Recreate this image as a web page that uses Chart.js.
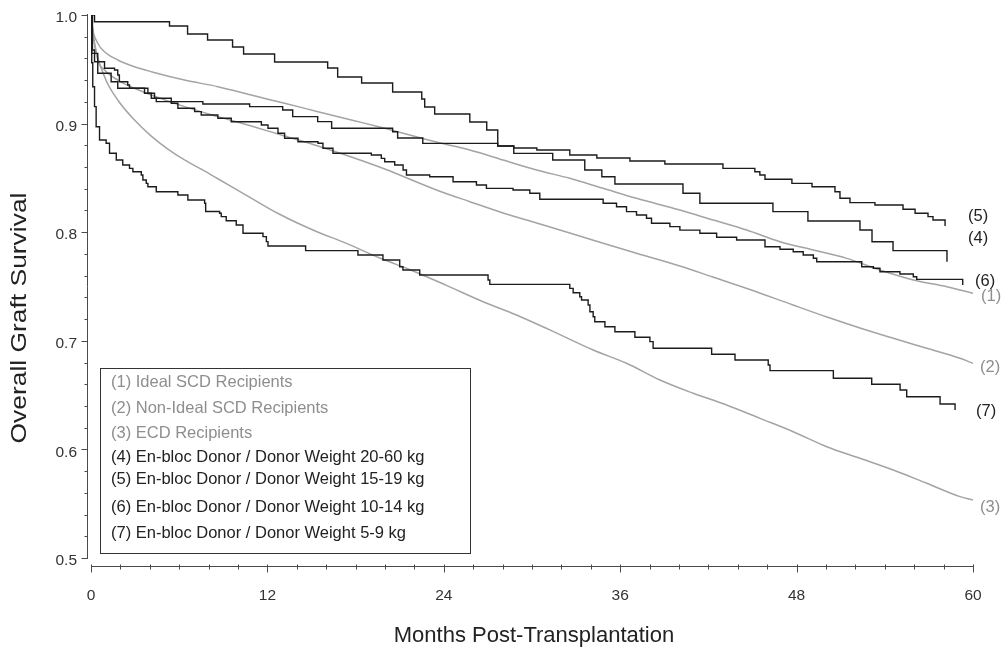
<!DOCTYPE html>
<html>
<head>
<meta charset="utf-8">
<script src="https://cdn.jsdelivr.net/npm/chart.js@4.4.1/dist/chart.umd.min.js"></script>
<style>
  html, body { margin: 0; padding: 0; background: #fff; }
  #wrap { width: 1003px; height: 651px; }
</style>
</head>
<body>
<div id="wrap"><canvas id="chart" width="1003" height="651"></canvas></div>
<script>
// legend text and end-of-curve labels, in series order (1)..(7)
const seriesNames = [
  '(1) Ideal SCD Recipients',
  '(2) Non-Ideal SCD Recipients',
  '(3) ECD Recipients',
  '(4) En-bloc Donor / Donor Weight 20-60 kg',
  '(5) En-bloc Donor / Donor Weight 15-19 kg',
  '(6) En-bloc Donor / Donor Weight 10-14 kg',
  '(7) En-bloc Donor / Donor Weight 5-9 kg'
];
const endLabels = ['(1)', '(2)', '(3)', '(4)', '(5)', '(6)', '(7)'];
const xTicks = [0, 12, 24, 36, 48, 60];
const yTicks = [0.5, 0.6, 0.7, 0.8, 0.9, 1.0];

// (1) Ideal SCD
const months1 = [0, 0.1, 0.46, 0.92, 1.82, 2.96, 4.1, 6.36, 8.63, 10.9, 13.17, 15.44, 17.71, 19.98, 23.5, 25.77, 28.03, 30.31, 32.57, 34.84, 37.11, 40.06, 42.33, 44.6, 46.87, 49.14, 51.41, 53.67, 55.94, 58.22, 60];
const surv1   = [1, 0.988, 0.974, 0.9662, 0.9586, 0.9524, 0.9478, 0.9401, 0.934, 0.9263, 0.9187, 0.911, 0.9033, 0.8957, 0.883, 0.8757, 0.8665, 0.8573, 0.8496, 0.8404, 0.8312, 0.8204, 0.8112, 0.802, 0.7912, 0.7836, 0.7759, 0.7652, 0.756, 0.7498, 0.7437];
// (2) Non-ideal SCD
const months2 = [0, 0.1, 0.46, 0.92, 1.82, 2.96, 4.1, 6.36, 8.63, 10.9, 13.17, 15.44, 17.71, 19.98, 23.5, 25.77, 28.03, 30.31, 32.57, 34.84, 37.11, 40.06, 42.31, 44.62, 47.75, 50.07, 52.31, 54.58, 56.85, 59.12, 60];
const surv2   = [1, 0.9862, 0.9586, 0.9494, 0.9401, 0.9325, 0.9263, 0.9156, 0.9064, 0.8978, 0.8886, 0.8794, 0.8692, 0.8582, 0.8389, 0.8281, 0.8177, 0.8085, 0.7993, 0.7898, 0.7806, 0.7689, 0.7587, 0.7482, 0.733, 0.7219, 0.7118, 0.7023, 0.6931, 0.6839, 0.6793];
// (3) ECD
const months3 = [0, 0.24, 0.92, 1.82, 2.96, 4.1, 5.23, 6.36, 7.5, 8.63, 10.57, 12.83, 15.1, 17.37, 19.64, 21.91, 24.18, 26.67, 28.94, 31.21, 34.16, 36.43, 38.7, 40.97, 43.24, 45.51, 47.77, 50.05, 52.31, 54.58, 56.85, 59.12, 60];
const surv3   = [1, 0.9742, 0.9432, 0.9217, 0.9033, 0.8885, 0.8765, 0.8665, 0.858, 0.8492, 0.834, 0.8165, 0.802, 0.7897, 0.7762, 0.7643, 0.751, 0.736, 0.7238, 0.71, 0.6915, 0.6793, 0.6639, 0.6517, 0.6409, 0.6286, 0.6163, 0.6025, 0.5918, 0.581, 0.5688, 0.5565, 0.5534];
// (4) en-bloc 20-60 kg
const months4 = [0, 0.1, 0.24, 0.92, 1.6, 1.82, 1.93, 2.5, 2.62, 3.87, 4.32, 4.44, 7.61, 10.79, 13.04, 13.72, 15.42, 16.37, 20.52, 20.86, 22.57, 27.67, 28.76, 31.41, 33.59, 34.75, 35.64, 40.27, 41.42, 46.39, 48.77, 52.31, 53.13, 54.56, 58.23];
const surv4   = [1, 0.9678, 0.957, 0.9509, 0.9494, 0.9448, 0.9386, 0.9355, 0.9325, 0.9279, 0.9233, 0.9202, 0.918, 0.9156, 0.9125, 0.9064, 0.9018, 0.8957, 0.8925, 0.8867, 0.8818, 0.8794, 0.8726, 0.8665, 0.8573, 0.8511, 0.8444, 0.8358, 0.8266, 0.8189, 0.8103, 0.802, 0.7912, 0.783, 0.7728];
// (5) en-bloc 15-19 kg
const months5 = [0, 0.24, 5.34, 6.57, 7.93, 9.63, 10.38, 12.49, 16.1, 16.78, 18.41, 20.52, 22.5, 22.7, 23.38, 25.77, 26.92, 27.67, 28.76, 30.33, 32.57, 34.41, 36.66, 39.04, 42.99, 45.16, 45.5, 45.85, 47.68, 49.05, 50.61, 50.95, 51.63, 53.33, 55.24, 56.06, 56.94, 57.28, 58.1];
const surv5   = [1, 0.9938, 0.9899, 0.9825, 0.977, 0.9705, 0.9641, 0.9567, 0.9512, 0.9429, 0.9374, 0.9291, 0.9227, 0.9153, 0.9088, 0.9015, 0.8941, 0.8794, 0.8775, 0.8757, 0.8711, 0.8683, 0.8656, 0.8628, 0.8588, 0.8557, 0.8527, 0.8487, 0.845, 0.8419, 0.8373, 0.8312, 0.8272, 0.825, 0.8211, 0.8174, 0.8143, 0.8112, 0.8057];
// (6) en-bloc 10-14 kg
const months6 = [0, 0.05, 0.46, 1.37, 1.82, 3.64, 4.1, 5.46, 5.91, 7.05, 7.5, 8.63, 9.54, 11.59, 12.04, 12.72, 13.17, 14.08, 15.44, 15.78, 16.46, 19.07, 19.75, 19.98, 20.66, 21.23, 21.46, 23.04, 24.63, 26.22, 26.9, 28.71, 29.85, 30.53, 34.84, 35.75, 36.43, 37.11, 37.79, 38.13, 39.38, 40.06, 41.42, 42.56, 43.92, 45.85, 46.87, 47.77, 48.45, 49.14, 49.37, 52.43, 53.22, 53.67, 55.03, 55.94, 56.17, 59.3];
const surv6   = [1, 0.9647, 0.9463, 0.9386, 0.9325, 0.9279, 0.9233, 0.9187, 0.9141, 0.911, 0.9079, 0.9049, 0.9017, 0.8987, 0.8957, 0.8911, 0.8865, 0.8833, 0.8819, 0.8773, 0.8727, 0.8711, 0.868, 0.8649, 0.8619, 0.8573, 0.8527, 0.8511, 0.8465, 0.8435, 0.8404, 0.8389, 0.8358, 0.8303, 0.8266, 0.8235, 0.8189, 0.8158, 0.8128, 0.8082, 0.8051, 0.8019, 0.799, 0.7953, 0.7928, 0.7866, 0.7843, 0.782, 0.779, 0.776, 0.7728, 0.7682, 0.7668, 0.7636, 0.7615, 0.759, 0.7566, 0.7514];
// (7) en-bloc 5-9 kg
const months7 = [0, 0.05, 0.12, 0.24, 0.35, 0.58, 1.03, 1.26, 1.72, 2.16, 2.62, 2.85, 3.42, 3.53, 3.76, 3.87, 4.44, 5.91, 6.59, 7.73, 7.8, 8.75, 8.86, 9.2, 9.88, 10.34, 11.7, 11.93, 12.04, 14.6, 18.16, 19.86, 21.0, 21.22, 22.36, 27.01, 27.13, 32.57, 32.8, 33.25, 33.37, 33.82, 33.94, 34.16, 34.27, 34.96, 35.64, 37.0, 38.02, 38.24, 42.22, 43.81, 46.07, 46.19, 50.5, 53.11, 55.04, 55.49, 57.76, 58.78];
const surv7   = [1, 0.956, 0.934, 0.9156, 0.8971, 0.8849, 0.8819, 0.8727, 0.8665, 0.8619, 0.8588, 0.8557, 0.8527, 0.848, 0.845, 0.8419, 0.8373, 0.8343, 0.8297, 0.8266, 0.819, 0.8174, 0.8143, 0.8106, 0.8066, 0.799, 0.7959, 0.7913, 0.7873, 0.783, 0.779, 0.7744, 0.7682, 0.7652, 0.7606, 0.756, 0.752, 0.7483, 0.7443, 0.7406, 0.7376, 0.733, 0.7268, 0.7222, 0.7176, 0.713, 0.7084, 0.7032, 0.6992, 0.6931, 0.6876, 0.6823, 0.6777, 0.6725, 0.6655, 0.66, 0.6547, 0.6485, 0.6418, 0.6363];

const FONT = "'Liberation Sans', Arial, Helvetica, sans-serif";
const BLACK = '#1c1c1c';
const GREY = '#a4a4a4';
const GREY_TEXT = '#8e8e8e';

const pts = (xs, ys) => xs.map((m, i) => ({ x: m, y: ys[i] }));

const allMonths = [months1, months2, months3, months4, months5, months6, months7];
const allSurv = [surv1, surv2, surv3, surv4, surv5, surv6, surv7];

const datasets = allMonths.map((xs, i) => {
  const grey = i < 3;
  return {
    label: seriesNames[i],
    data: pts(xs, allSurv[i]),
    borderColor: grey ? GREY : BLACK,
    borderWidth: grey ? 1.5 : 1.4,
    pointRadius: 0,
    fill: false,
    stepped: grey ? false : 'before',
    cubicInterpolationMode: 'monotone',
    tension: grey ? 0.4 : 0,
    order: grey ? 1 : 0
  };
});

// label placement next to the curve ends (pixel nudges)
const endNudge = [[8, 3], [7, 4], [7, 7], [-5, -23], [-5, -10], [2, -4], [3, 1]];
// legend line offsets from the top of the box
const legendRows = [14, 40, 65, 89, 111, 139, 165];

const decor = {
  id: 'decor',
  afterDatasetsDraw(chart) {
    const { ctx, scales: { x, y } } = chart;
    ctx.save();
    ctx.strokeStyle = '#4a4a4a';
    ctx.lineWidth = 1;

    // y axis with ticks
    const ax = Math.round(x.getPixelForValue(0)) - 3.5;
    ctx.beginPath();
    ctx.moveTo(ax, y.getPixelForValue(1.0) - 1);
    ctx.lineTo(ax, y.getPixelForValue(0.5) + 1);
    for (let k = 0; k <= 25; k++) {
      const v = 0.5 + k * 0.02;
      const py = Math.round(y.getPixelForValue(v)) + 0.5;
      const len = k % 5 === 0 ? 6 : 3;
      ctx.moveTo(ax - len, py);
      ctx.lineTo(ax, py);
    }
    ctx.stroke();

    // x axis with ticks
    const ay = Math.round(y.getPixelForValue(0.5)) + 8.5;
    ctx.beginPath();
    ctx.moveTo(x.getPixelForValue(0), ay);
    ctx.lineTo(x.getPixelForValue(60), ay);
    for (let m = 0; m <= 60; m += 2) {
      const px = Math.round(x.getPixelForValue(m)) + 0.5;
      const len = m % 12 === 0 ? 6 : 3;
      ctx.moveTo(px, ay - 2);
      ctx.lineTo(px, ay + len);
    }
    ctx.stroke();

    // end labels
    ctx.font = '16.5px ' + FONT;
    ctx.textBaseline = 'middle';
    ctx.textAlign = 'left';
    allSurv.forEach((s, i) => {
      const px = x.getPixelForValue(60) + endNudge[i][0];
      const py = y.getPixelForValue(s[s.length - 1]) + endNudge[i][1];
      ctx.fillStyle = i < 3 ? GREY_TEXT : '#222';
      ctx.fillText(endLabels[i], px, py);
    });

    // legend box
    const bx = 100.5, by = 368.5, bw = 370, bh = 185;
    ctx.strokeStyle = '#333';
    ctx.strokeRect(bx, by, bw, bh);
    ctx.font = '16.5px ' + FONT;
    seriesNames.forEach((name, i) => {
      ctx.fillStyle = i < 3 ? GREY_TEXT : '#222';
      ctx.fillText(name, bx + 10.5, by + legendRows[i]);
    });

    // axis titles
    ctx.fillStyle = '#222';
    ctx.font = '22px ' + FONT;
    ctx.textAlign = 'center';
    ctx.fillText('Months Post-Transplantation', 534, 636);
    ctx.translate(20, 318);
    ctx.rotate(-Math.PI / 2);
    ctx.scale(1.2, 1);
    ctx.fillText('Overall Graft Survival', 0, 0);
    ctx.restore();
  }
};

new Chart(document.getElementById('chart'), {
  type: 'line',
  data: { datasets },
  plugins: [decor],
  options: {
    responsive: false,
    animation: false,
    devicePixelRatio: 1,
    layout: { padding: { left: 0, right: 30, top: 15, bottom: 0 } },
    plugins: { legend: { display: false }, tooltip: { enabled: false } },
    scales: {
      x: {
        type: 'linear',
        min: 0,
        max: 60,
        afterBuildTicks: s => { s.ticks = xTicks.map(v => ({ value: v })); },
        afterFit: s => { s.height = 93; s.paddingLeft = 0; s.paddingRight = 0; },
        grid: { display: false, drawTicks: false },
        border: { display: false },
        ticks: { color: '#333', font: { family: FONT, size: 15.5 }, padding: 28, maxRotation: 0 }
      },
      y: {
        type: 'linear',
        min: 0.5,
        max: 1.0,
        afterBuildTicks: s => { s.ticks = yTicks.map(v => ({ value: v })); },
        afterFit: s => { s.width = 91; s.paddingTop = 0; s.paddingBottom = 0; },
        grid: { display: false, drawTicks: false },
        border: { display: false },
        ticks: { color: '#333', font: { family: FONT, size: 15.5 }, padding: 14, labelOffset: 3, callback: v => v.toFixed(1) }
      }
    }
  }
});
</script>
</body>
</html>
